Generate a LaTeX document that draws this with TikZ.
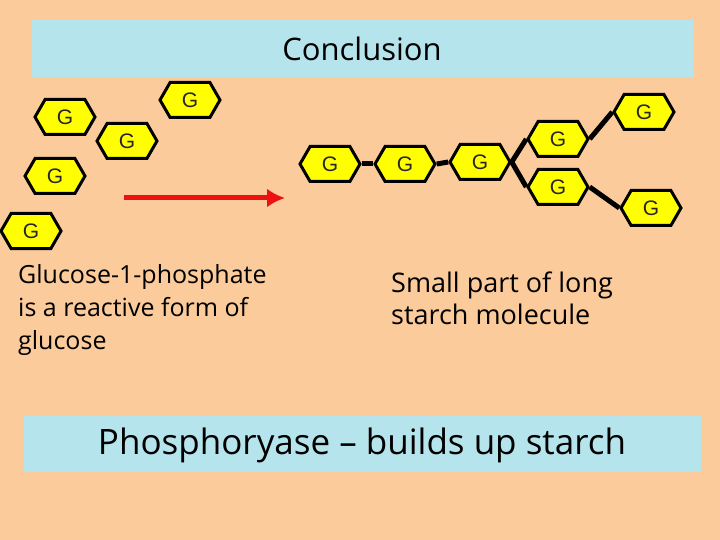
\documentclass[tikz,border=0pt]{standalone}
\usepackage{fontspec}
\setmainfont{Open Sans}
\newfontfamily\gfont{Liberation Sans}
\usetikzlibrary{shapes.symbols,arrows.meta}
\definecolor{bg}{HTML}{FBCB9B}
\definecolor{boxblue}{HTML}{B6E4EC}
\definecolor{hexy}{HTML}{FFFF00}
\definecolor{arrred}{HTML}{EE1111}
\tikzset{
 hexg/.style={signal, signal to=east and west, signal pointer angle=120, draw=black, line width=3pt, fill=hexy, minimum width=60pt, minimum height=35pt, inner sep=0pt, font=\gfont\fontsize{21}{21}\selectfont, text=black!85},
 bond/.style={line width=5pt, black},
 body/.style={align=left, anchor=north west, font=\fontsize{25}{33}\selectfont, inner sep=0pt},
 band/.style={fill=boxblue, draw=none}
}
\begin{document}
\begin{tikzpicture}[x=1pt,y=-1pt]
\fill[bg] (0,0) rectangle (720,540);
\useasboundingbox (0,0) rectangle (720,540);
\node[band, minimum width=662pt, minimum height=57pt] (title) at (363,48.5) {};
\node[font=\fontsize{31}{31}\selectfont] (tt) at (362,49) {Conclusion};
\node[band, minimum width=677pt, minimum height=56pt] (bottom) at (362.5,444) {};
\node[font=\fontsize{35}{35}\selectfont] (bt) at (362,445) {Phosphoryase – builds up starch};
% free glucoses
\node[hexg] (a1) at (65,117) {G};
\node[hexg] (a2) at (190,100) {G};
\node[hexg] (a3) at (127,141) {G};
\node[hexg] (a4) at (55,176) {G};
\node[hexg] (a5) at (31,231) {G};
\coordinate (as) at (124,198);
\coordinate (ae) at (285,198);
\draw[arrred, line width=5pt, -{Latex[length=18pt,width=19pt]}] (as) -- (ae);
% starch
\node[hexg] (s1) at (330,164) {G};
\node[hexg] (s2) at (405,164) {G};
\node[hexg] (s3) at (480,162) {G};
\node[hexg] (s4) at (558,139) {G};
\node[hexg] (s5) at (558,187) {G};
\node[hexg] (s6) at (644,112) {G};
\node[hexg] (s7) at (651,208) {G};
\draw[bond] (s1.east) -- (s2.west);
\draw[bond] (s2.east) -- (s3.west);
\draw[bond] (s3.east) -- (s4.west);
\draw[bond] (s3.east) -- (s5.west);
\draw[bond] (s4.east) -- (s6.west);
\draw[bond] (s5.east) -- (s7.west);
\node[body] (lt) at (18,264) {Glucose-1-phosphate\\is a reactive form of\\glucose};
\node[body, font=\fontsize{27}{32}\selectfont] (rt) at (391,272) {Small part of long\\starch molecule};
\end{tikzpicture}
\end{document}
